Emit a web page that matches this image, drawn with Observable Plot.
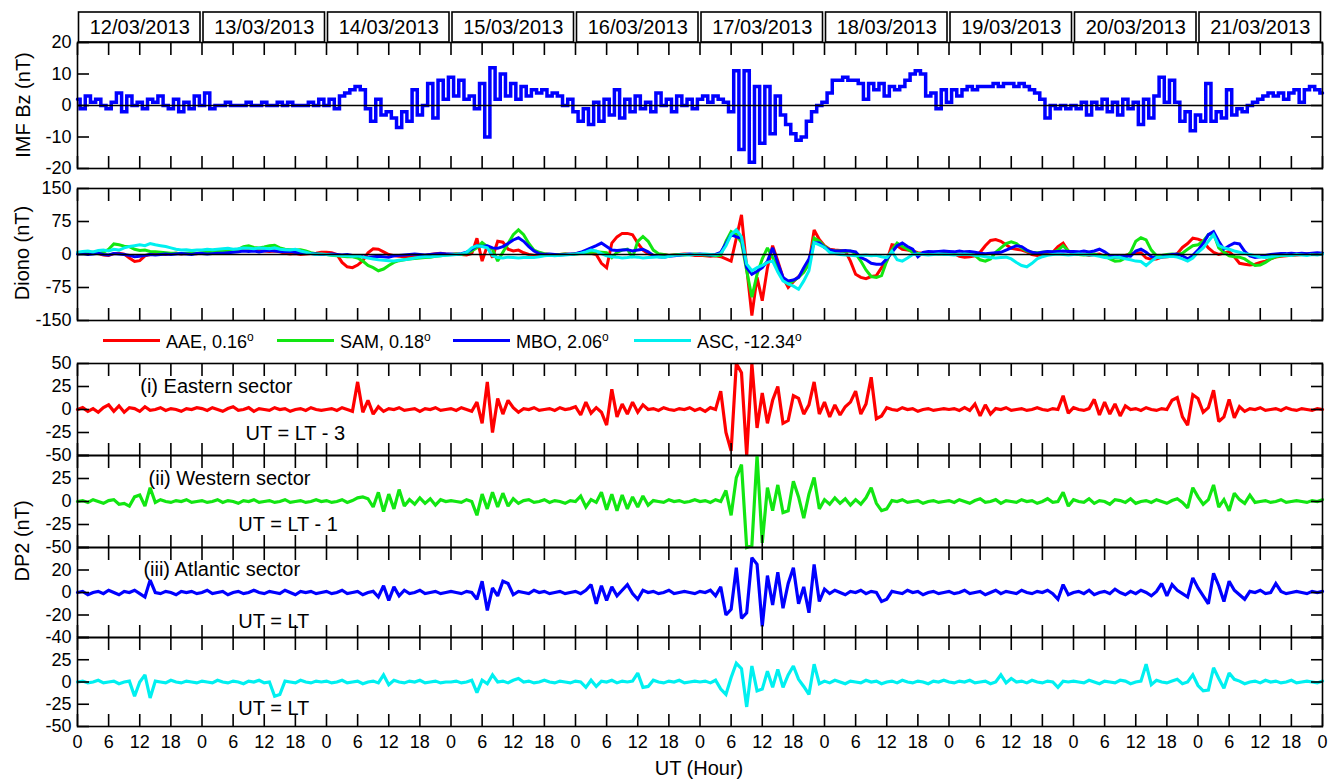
<!DOCTYPE html>
<html><head><meta charset="utf-8">
<script src="https://cdn.jsdelivr.net/npm/d3@7"></script>
<script src="https://cdn.jsdelivr.net/npm/@observablehq/plot@0.6"></script>
<style>
html,body{margin:0;padding:0;background:#fff;overflow:hidden;}
#chart{position:relative;width:1336px;height:780px;font-family:"Liberation Sans",Arial,sans-serif;color:#000;}
.slot{position:absolute;left:0;}
.ytitle{position:absolute;font-size:20px;white-space:nowrap;transform:translate(-50%,-50%) rotate(-90deg);}
.xtitle{position:absolute;font-size:20px;white-space:nowrap;transform:translate(-50%,-50%);}
.leg-line{position:absolute;height:3px;width:57px;}
.leg-text{position:absolute;font-size:18px;white-space:nowrap;transform:translateY(-50%);}
.leg-text sup{font-size:12px;}
</style></head><body><div id="chart"></div>
<script>
// ---------- categories / labels ----------
const dates = ["12/03/2013","13/03/2013","14/03/2013","15/03/2013","16/03/2013","17/03/2013","18/03/2013","19/03/2013","20/03/2013","21/03/2013"];
const stations = ["AAE","SAM","MBO","ASC"];
const stationLat = ["0.16","0.18","2.06","-12.34"];
const stationColors = ["#ff0000","#12e612","#0000ff","#00f0f0"];
const sectorNames = ["(i) Eastern sector","(ii) Western sector","(iii) Atlantic sector",""];
const sectorLT = ["UT = LT - 3","UT = LT - 1","UT = LT","UT = LT"];

// ---------- hourly values, hour 0..240 ----------
const bz = [
 2,-1,3,1,2,0,-1,1,4,-2,3,0,1,-1,2,1,3,0,-1,2,-2,1,-1,3,
 0,4,-1,0,0,1,0,0,0,1,0,0,1,0,0,1,0,1,0,0,0,1,0,2,
 0,2,-1,3,4,5,6,5,-1,-5,2,-3,-2,-4,-7,-2,-5,5,-3,0,7,-4,8,2,
 9,3,8,2,3,-1,7,-10,12,2,10,3,7,2,6,3,5,4,5,3,4,3,0,2,
 -2,-5,-1,-6,1,-5,2,-3,5,-4,2,-2,3,-1,1,-2,4,0,2,-2,3,0,2,-1,
 2,3,1,3,2,1,-2,11,-14,11,-18,6,-12,6,-9,3,-3,-6,-9,-11,-10,-5,-2,0,
 1,4,8,8,9,8,8,7,2,7,5,7,3,6,5,6,8,10,11,10,3,4,-1,5,
 1,5,3,5,6,5,6,6,6,7,6,7,7,6,7,6,5,4,2,-4,0,-1,0,-1,
 0,-1,1,-3,1,-1,2,-2,1,-3,2,-1,1,-6,2,-4,3,9,1,8,1,-5,-2,-8,
 -3,-5,7,-5,-2,-4,5,-3,-1,-2,0,1,2,3,4,3,4,2,4,5,1,5,6,5,4
];
const dionoAAE = [
 3,5,4,5,2,-1,-2,2,3,1,-8,-16,-14,-3,0,2,1,0,2,3,1,2,3,2,
 4,6,8,10,11,12,11,10,11,12,10,9,8,7,8,6,3,1,2,0,1,2,3,5,
 5,4,0,-18,-28,-30,-24,-14,4,13,12,6,0,-3,-4,-5,-4,-3,-4,-2,0,2,3,1,
 0,1,0,-1,2,37,-15,20,-7,30,28,12,8,10,4,0,-2,0,1,0,-1,0,1,0,
 2,4,5,3,0,-20,-30,26,40,48,48,45,26,10,2,-2,-3,0,-2,-1,0,1,0,-2,
 -2,-3,-4,-3,-5,-10,-15,37,90,-30,-139,-52,-105,-30,20,-15,-52,-75,-62,-50,-40,-20,56,34,
 20,12,10,9,8,-15,-45,-52,-55,-50,-48,-30,-15,22,20,12,10,8,4,3,2,3,2,3,
 3,2,-4,-6,-5,-3,5,20,32,34,30,22,14,12,10,6,0,-2,0,2,5,18,26,8,
 2,0,1,-2,0,1,-5,-8,-7,-6,-2,2,3,4,-8,-11,-10,-6,-5,-4,2,16,25,37,
 35,30,15,5,0,3,7,-5,-20,-22,-24,-22,-18,-15,-10,-6,-4,-3,-2,-1,0,1,2,1,3
];
const dionoSAM = [
 2,3,4,3,2,5,12,24,22,19,18,12,9,10,7,6,5,4,3,3,2,3,4,3,
 4,5,6,7,8,9,10,12,18,20,16,15,17,20,21,15,12,11,10,11,8,4,2,0,
 0,-2,-3,-4,-5,-5,-8,-15,-25,-30,-37,-33,-25,-18,-14,-12,-10,-9,-8,-7,-6,-4,-3,-1,
 0,1,0,2,8,15,27,18,12,-15,5,25,45,56,45,25,10,5,2,0,-1,0,1,0,
 1,2,4,5,6,5,4,-7,5,10,12,-7,30,41,30,10,2,0,-2,-1,0,-1,0,1,
 0,-1,-2,-3,-2,30,52,45,27,-37,-97,-45,-10,15,-7,-30,-55,-67,-60,-52,-40,-20,37,30,
 18,10,8,8,7,8,2,-15,-35,-50,-52,-48,-15,10,26,18,12,5,3,2,3,2,1,2,
 1,2,0,1,2,-2,-12,-15,-10,5,15,25,29,25,15,8,5,4,5,6,5,10,20,8,
 3,0,-1,0,1,-2,-3,-10,-15,-14,-8,5,30,38,33,10,-3,-2,0,1,0,3,12,20,
 22,30,45,48,15,5,-3,-5,-6,-10,-18,-25,-24,-18,-10,-5,-3,-2,-1,0,1,0,2,1,3
];
const dionoMBO = [
 1,2,0,1,3,0,-1,2,1,0,-2,-5,-4,-2,0,-1,0,1,0,1,2,1,0,2,
 2,1,2,3,3,4,5,6,8,7,8,6,8,9,8,7,6,7,5,4,3,2,1,0,
 0,1,0,-1,0,-2,-3,-5,-6,-5,-4,-5,-6,-3,-2,-1,0,1,0,-1,0,1,2,1,
 1,0,2,5,12,20,18,20,15,14,18,25,33,38,30,18,8,2,0,1,0,-1,0,1,
 2,5,10,15,20,26,18,10,9,10,11,8,10,12,6,-2,-5,-6,-4,-3,-2,0,1,0,
 1,0,-1,0,5,25,45,40,37,-30,-45,-38,-30,-15,15,-20,-52,-60,-58,-52,-30,-10,27,26,
 16,10,8,8,9,8,6,-7,-12,-20,-22,-22,-10,5,20,26,18,12,-5,5,7,6,7,8,
 7,6,8,6,7,5,3,2,3,4,5,10,15,20,18,10,5,3,5,7,6,7,8,7,
 7,6,8,6,8,12,6,-2,-4,-5,-3,-4,8,12,5,-5,-7,-6,-2,0,1,-3,-10,-2,
 10,25,45,52,30,12,20,26,24,7,-3,-7,-5,-2,0,1,2,2,3,2,3,2,3,4,3
];
const dionoASC = [
 5,7,8,6,9,10,8,12,10,15,18,20,22,20,25,22,20,18,15,12,10,11,9,10,
 10,12,11,12,13,14,12,13,15,14,13,15,14,13,15,12,11,10,12,8,5,2,0,1,
 0,-1,-2,-3,-3,-4,-3,-6,-8,-10,-12,-13,-14,-15,-13,-12,-10,-8,-6,-5,-5,-4,-3,-2,
 -1,0,1,5,15,20,18,15,-3,-7,-8,-6,-7,-8,-7,-6,-7,-5,-3,-2,-3,-2,-1,0,
 1,3,6,10,8,2,-3,-5,-6,-8,-7,-5,-6,-8,-7,-6,-5,-7,-4,-2,-1,0,-1,0,
 0,1,0,-1,2,20,45,56,40,-22,-37,-30,-25,-18,-15,-40,-60,-67,-72,-79,-60,-37,27,22,
 16,5,2,0,-1,-2,-3,-2,-1,-3,-2,-5,-7,7,-12,-15,-8,0,1,0,-1,0,1,0,
 0,-1,0,1,0,-2,-3,-5,-7,-8,-7,-6,-10,-18,-25,-28,-20,-10,-5,-2,0,1,0,-1,
 0,1,0,-1,-2,-4,-7,-8,-6,-7,-10,-12,-15,-16,-25,-15,-7,-6,-5,-4,-6,-10,-15,-8,
 5,15,30,45,20,15,12,8,5,2,0,-3,-6,-7,-5,-3,-2,-1,-2,0,-1,-2,0,-1,1
];
const dp2AAE = [
 0,2,-2,1,-3,2,5,-2,4,-3,2,1,-2,3,-1,0,2,-1,1,0,-2,1,0,2,
 1,-1,2,0,-2,1,3,-1,0,2,-2,1,0,-1,2,0,1,-2,0,1,-1,2,0,-1,
 0,1,-1,2,0,-2,30,-3,10,-5,3,-2,1,0,2,-1,0,1,-2,1,0,2,-1,0,
 1,-1,2,0,-2,8,-15,30,-25,12,-5,10,2,-3,1,0,2,-1,0,1,-1,2,0,1,
 3,-6,8,-4,2,-3,-17,22,-8,6,-5,8,-3,5,0,1,-1,2,0,-1,1,0,2,-1,
 1,-2,2,0,20,-25,-45,50,40,-50,50,-20,18,-15,10,25,-15,-12,15,12,-5,5,30,-5,
 8,-8,5,-6,3,8,20,-5,6,35,-10,-7,2,0,-1,2,0,1,-2,0,1,-1,0,1,
 0,1,-1,2,-1,6,-7,5,-5,1,0,2,-1,0,1,-1,0,2,0,-1,1,0,15,-4,
 2,0,-1,1,11,-6,8,-5,6,-7,4,0,1,-1,2,0,-1,1,0,10,13,-8,-17,16,
 12,-3,2,21,-13,-8,11,-9,3,-2,1,0,2,-1,0,1,-1,2,0,-1,1,0,-1,1,0
];
const dp2SAM = [
 0,1,-1,2,0,-2,1,2,-3,-2,-5,5,7,-5,15,-1,2,0,-1,1,0,2,-1,0,
 1,-1,0,2,-1,1,0,-2,1,0,2,-1,0,1,-1,0,2,-1,0,1,-1,0,2,0,
 1,-1,0,2,-1,1,4,5,3,-6,10,-11,8,-8,13,-5,2,-3,4,-2,3,-4,2,0,
 1,0,-1,2,0,-15,8,-8,10,-6,9,-5,3,-2,1,2,-1,0,2,-1,1,0,-2,1,
 0,6,-6,2,-1,10,-9,8,-10,7,-8,5,-6,6,-4,1,0,-1,2,0,1,-1,0,2,
 0,1,-1,2,0,12,-15,26,40,-50,-48,50,-45,15,-10,18,-12,-10,22,5,-18,8,26,-8,
 2,-3,4,-2,3,-4,2,-3,4,15,-2,-10,-8,1,0,2,-1,0,1,-2,0,1,-1,0,
 1,-1,2,0,-2,1,3,-1,0,2,-2,1,0,-1,2,0,1,-2,0,3,-1,0,10,-5,
 2,0,-1,3,-2,1,0,-3,2,1,-1,3,-2,0,1,-1,2,0,-2,1,3,-1,-7,15,
 5,-3,2,18,-6,2,-10,9,2,-2,7,-1,0,1,-1,0,2,-1,0,1,0,-1,1,0,2
];
const dp2MBO = [
 0,1,-2,0,1,-1,2,0,-2,1,0,2,-1,-4,11,0,-1,1,0,-2,1,0,1,-1,
 0,2,-1,0,1,-2,0,1,-1,0,2,0,-1,1,0,-1,2,0,-2,1,0,1,-1,0,
 1,-1,0,2,-1,0,1,-2,0,1,-4,6,-7,5,-3,2,-1,0,2,-1,0,1,-1,0,
 1,0,-1,1,0,-6,10,-16,4,-3,10,8,-2,1,0,-1,2,0,1,-1,0,1,-1,0,
 1,-1,2,7,-10,6,-7,5,-3,2,7,-1,-6,2,0,1,-1,0,2,-1,0,1,0,-1,
 1,0,2,-3,5,-20,-15,22,-23,-18,31,25,-30,15,-11,18,-14,8,22,-10,5,-18,25,-8,
 3,-1,2,0,-2,1,0,2,-1,1,0,-8,-6,1,0,-1,2,0,1,-2,0,1,-1,0,
 1,-1,0,2,-1,0,1,-2,0,2,-1,1,0,-1,2,0,-1,1,0,2,-1,-6,7,-2,
 0,1,-1,2,-2,0,1,-1,3,0,-2,1,-1,2,0,-3,1,8,-3,7,2,-1,-4,13,
 4,-3,-10,17,6,-8,10,2,-2,-6,1,0,2,-1,0,8,1,-1,0,1,0,-1,1,0,1
];
const dp2ASC = [
 0,1,-1,0,2,-1,0,1,-2,0,1,-16,0,8,-18,1,0,-1,2,0,-1,1,0,-1,
 1,0,-1,2,0,-1,1,0,-2,1,0,2,-1,0,-16,-14,1,0,-1,2,0,-1,1,0,
 1,-1,0,2,-1,0,1,-2,0,1,-1,8,-3,2,0,-1,1,0,2,-1,0,1,-1,0,
 0,1,-1,0,2,-12,2,-2,8,0,1,-1,2,4,0,1,-1,0,2,0,-1,1,0,-1,
 1,0,-6,2,-5,1,0,2,-1,1,0,1,10,-6,-5,2,0,-1,1,0,2,-1,0,1,
 0,1,-1,2,-8,-14,5,21,15,-28,18,-10,-8,12,-6,14,-6,8,18,3,-5,-14,20,-2,
 1,-1,2,0,-2,1,0,-1,2,0,1,-2,0,1,-1,2,0,-1,1,0,-2,1,0,2,
 0,-1,1,0,2,-1,0,1,-2,0,8,-1,4,0,1,-1,2,0,-1,1,0,-6,1,0,
 1,0,-1,2,0,-2,1,0,-1,2,1,-2,0,1,20,-3,2,0,-1,1,3,-2,0,8,
 -4,-10,-9,16,4,-7,10,3,1,-2,0,1,-1,2,0,1,-1,0,2,-1,0,1,0,-1,1
];

// ---------- layout ----------
const W = 1336, ML = 77, MR = 14;
const FONT = '"Liberation Sans", Arial, sans-serif';
const chart = document.getElementById("chart");
const xTicks = d3.range(0, 241, 6);
const baseStyle = {background: "transparent", overflow: "visible", fontFamily: FONT, fontSize: "18px", color: "black"};

function place(node, top) {
  const d = document.createElement("div");
  d.className = "slot"; d.style.top = top + "px";
  d.appendChild(node); chart.appendChild(d);
}

function panel({top, height, domain, yTicks, yLabels, series, zero = false, curve = "linear", sw = 2.5, bottomLabels = false, notes = []}) {
  const marks = [];
  for (const s of series) {
    marks.push(Plot.line(s.values, {x: (d, i) => i, y: d => d, stroke: s.color, strokeWidth: sw, curve, strokeLinejoin: "miter", strokeMiterlimit: 2}));
  }
  if (zero) marks.push(Plot.ruleY([0], {stroke: "black", strokeWidth: 1.5}));
  if (notes.length) marks.push(Plot.text(notes, {x: "h", y: "v", text: "text", textAnchor: "start", fontSize: 20, fill: "black"}));
  marks.push(Plot.frame({stroke: "black", strokeWidth: 1.6}));
  marks.push(Plot.axisX({anchor: "top", ticks: xTicks, tickSize: -12, tickFormat: () => "", label: null, strokeWidth: 1.6}));
  marks.push(Plot.axisX({anchor: "bottom", ticks: xTicks, tickSize: -12, tickPadding: 21, fontSize: 18,
    tickFormat: bottomLabels ? d => String(d % 24) : () => "", label: null, strokeWidth: 1.6}));
  marks.push(Plot.axisY({anchor: "left", ticks: yTicks, tickSize: -12, tickPadding: 18, fontSize: 18,
    tickFormat: d => yLabels.includes(d) ? String(d) : "", label: null, strokeWidth: 1.6}));
  marks.push(Plot.axisY({anchor: "right", ticks: yTicks, tickSize: -12, tickFormat: () => "", label: null, strokeWidth: 1.6}));
  const svg = Plot.plot({
    width: W, height, marginLeft: ML, marginRight: MR, marginTop: 0, marginBottom: 0,
    style: baseStyle, x: {domain: [0, 240]}, y: {domain}, marks
  });
  place(svg, top);
}

// date header
const dayRows = dates.map((label, i) => ({label, start: i * 24, end: (i + 1) * 24}));
place(Plot.plot({
  width: W, height: 30, marginLeft: ML, marginRight: MR, marginTop: 0, marginBottom: 0,
  style: baseStyle, x: {domain: [0, 240], axis: null},
  marks: [
    Plot.rect(dayRows, {x1: "start", x2: "end", fill: "white", stroke: "black", strokeWidth: 1.6, insetLeft: 1.5, insetRight: 1.5}),
    Plot.text(dayRows, {x: d => (d.start + d.end) / 2, text: "label", fontSize: 20, fill: "black"})
  ]
}), 12);

// IMF Bz
panel({top: 42, height: 126, domain: [-20, 20], yTicks: [-20, -10, 0, 10, 20], yLabels: [-20, -10, 0, 10, 20],
  series: [{values: bz, color: "#0000ff"}], zero: true, curve: "step", sw: 3.5});

// Diono
const dionoSeries = [dionoAAE, dionoSAM, dionoMBO, dionoASC];
panel({top: 188, height: 132, domain: [-150, 150], yTicks: [-150, -75, 0, 75, 150], yLabels: [-150, -75, 0, 75, 150],
  series: dionoSeries.map((v, i) => ({values: v, color: stationColors[i]})), zero: true, sw: 3});

// DP2 panels
const dp2Series = [dp2AAE, dp2SAM, dp2MBO, dp2ASC];
const dp2Cfg = [
  {top: 363, height: 92, domain: [-50, 50], yTicks: [-50, -25, 0, 25, 50], yLabels: [-50, -25, 0, 25, 50],
   notes: [{h: 12.1, v: 25}, {h: 32.4, v: -26}]},
  {top: 455, height: 92, domain: [-50, 50], yTicks: [-50, -25, 0, 25, 50], yLabels: [-50, -25, 0, 25],
   notes: [{h: 13.7, v: 25}, {h: 31, v: -25}]},
  {top: 547, height: 90, domain: [-40, 40], yTicks: [-40, -20, 0, 20, 40], yLabels: [-40, -20, 0, 20],
   notes: [{h: 12.7, v: 20}, {h: 31, v: -26}]},
  {top: 637, height: 89, domain: [-50, 50], yTicks: [-50, -25, 0, 25, 50], yLabels: [-50, -25, 0, 25],
   notes: [null, {h: 31, v: -30}]}
];
dp2Cfg.forEach((c, i) => {
  const notes = [];
  if (c.notes[0] && sectorNames[i]) notes.push({...c.notes[0], text: sectorNames[i]});
  notes.push({...c.notes[1], text: sectorLT[i]});
  panel({top: c.top, height: c.height, domain: c.domain, yTicks: c.yTicks, yLabels: c.yLabels,
    series: [{values: dp2Series[i], color: stationColors[i]}], sw: 3.2, curve: "linear",
    bottomLabels: i === 3, notes});
});

// legend
const legX = [103, 277, 453, 634];
stations.forEach((s, i) => {
  const ln = document.createElement("div");
  ln.className = "leg-line"; ln.style.left = legX[i] + "px"; ln.style.top = "339px"; ln.style.background = stationColors[i];
  chart.appendChild(ln);
  const tx = document.createElement("div");
  tx.className = "leg-text"; tx.style.left = (legX[i] + 63) + "px"; tx.style.top = "341px";
  tx.innerHTML = `${s}, ${stationLat[i]}<sup>o</sup>`;
  chart.appendChild(tx);
});

// axis titles
function title(cls, text, x, y) {
  const d = document.createElement("div");
  d.className = cls; d.textContent = text; d.style.left = x + "px"; d.style.top = y + "px";
  chart.appendChild(d);
}
title("ytitle", "IMF Bz (nT)", 23, 105);
title("ytitle", "Diono (nT)", 22, 253);
title("ytitle", "DP2 (nT)", 22, 541);
title("xtitle", "UT (Hour)", 699, 768);
</script></body></html>
